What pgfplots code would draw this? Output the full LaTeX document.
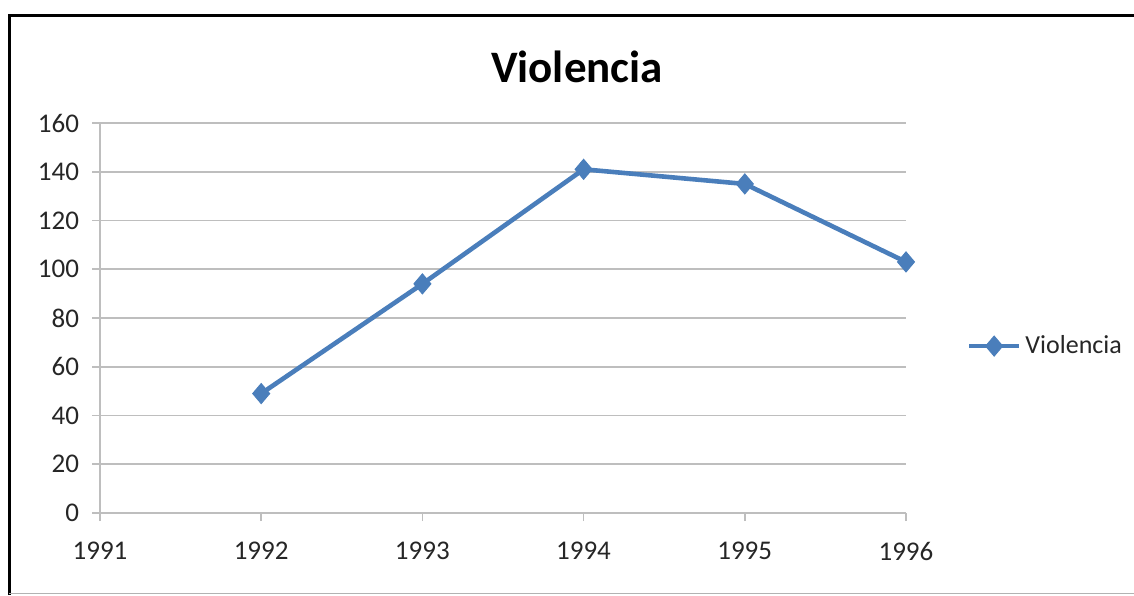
\documentclass[border=0pt]{standalone}
\usepackage{pgfplots}
\pgfplotsset{compat=1.18}
\usepackage{fontspec}
\setmainfont{Carlito}
\definecolor{serie}{HTML}{4A7EBB}
\definecolor{gridc}{HTML}{BEBEBE}
\begin{document}
\begin{tikzpicture}[x=0.5pt,y=0.5pt]
\useasboundingbox (0,0) rectangle (1134,595);
% frame
\draw[black,line width=1.5pt] (9,0) -- (9,579) -- (1134,579);
\draw[gray!60,line width=0.6pt] (9,1.5) -- (1134,1.5);
\node[font=\fontsize{22.5}{24}\selectfont\bfseries] at (577,528) {Violencia};
\begin{axis}[
  at={(50pt,41pt)}, anchor=south west,
  scale only axis, width=403pt, height=195pt,
  xmin=1991, xmax=1996, ymin=0, ymax=160,
  xtick={1991,...,1996}, ytick={0,20,...,160},
  axis x line*=bottom, axis y line*=left,
  axis line style={gridc, line width=0.8pt, -},
  ymajorgrids, grid style={gridc, line width=0.8pt},
  tick style={gridc, line width=0.8pt},
  tick align=outside, major tick length=4pt,
  xticklabel style={yshift=-7pt},
  yticklabel style={xshift=-3pt},
  tick label style={font=\fontsize{13.5}{15}\selectfont, text=black!85},
  /pgf/number format/assume math mode=true,
  x tick label style={/pgf/number format/1000 sep={}},
  clip=false,
  legend style={at={(1.075,0.428)}, anchor=west, draw=none, fill=none,
    font=\fontsize{13}{15}\selectfont, text=black!85, inner sep=0pt,
    /tikz/every even column/.append style={column sep=0pt}},
  legend cell align=left,
  legend image code/.code={
    \draw[#1, mark repeat=2, mark phase=2] plot coordinates {(0pt,0pt) (12.5pt,0pt) (25pt,0pt)};
  },
]
\addplot[serie, line width=2.3pt, mark=diamond*, mark size=5pt,
  mark options={line width=0.5pt, fill=serie, draw=serie, xscale=1.13}]
  coordinates {(1992,49) (1993,94) (1994,141) (1995,135) (1996,103)};
\addlegendentry{Violencia}
\end{axis}
\end{tikzpicture}
\end{document}
